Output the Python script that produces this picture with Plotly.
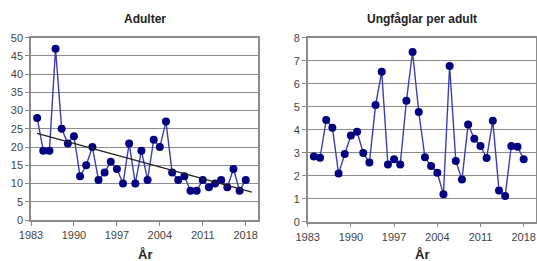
import numpy as np
import plotly.graph_objects as go

years = list(range(1984, 2019))
adulter = [28, 19, 19, 47, 25, 21, 23, 12, 15, 20, 11, 13, 16, 14, 10, 21, 10, 19, 11,
           22, 20, 27, 13, 11, 12, 8, 8, 11, 9, 10, 11, 9, 14, 8, 11]
ungfaglar = [2.83, 2.78, 4.42, 4.09, 2.10, 2.94, 3.75, 3.91, 2.99, 2.57, 5.07, 6.52, 2.49,
             2.72, 2.49, 5.26, 7.38, 4.77, 2.80, 2.42, 2.13, 1.19, 6.77, 2.64, 1.83, 4.23,
             3.61, 3.29, 2.77, 4.39, 1.36, 1.12, 3.29, 3.26, 2.72]
x_ticks = [1983, 1990, 1997, 2004, 2011, 2018]
titles = ["Adulter", "Ungfåglar per adult"]
x_title = "År"

coef = np.polyfit(years, adulter, 1)
trend_x = [1984, 2019]
trend_y = [float(np.polyval(coef, v)) for v in trend_x]

line_col = "#3a3eb0"
marker_col = "#000080"
font = "Liberation Sans, Arial, sans-serif"

fig = go.Figure()
fig.add_trace(go.Scatter(x=years, y=adulter, mode="lines+markers", xaxis="x", yaxis="y",
                         line=dict(color=line_col, width=1.4),
                         marker=dict(color=marker_col, size=8), showlegend=False))
fig.add_trace(go.Scatter(x=trend_x, y=trend_y, mode="lines", xaxis="x", yaxis="y",
                         line=dict(color="#222222", width=1.4), showlegend=False))
fig.add_trace(go.Scatter(x=years, y=ungfaglar, mode="lines+markers", xaxis="x2", yaxis="y2",
                         line=dict(color=line_col, width=1.4),
                         marker=dict(color=marker_col, size=8), showlegend=False))

xcommon = dict(range=[1983, 2020], tickmode="array", tickvals=x_ticks, ticks="outside",
               ticklen=4, tickcolor="#888", showgrid=False, zeroline=False, automargin=False,
               showline=True, linecolor="#8c8c8c", linewidth=1.5, mirror=True,
               tickfont=dict(size=11, color="#444", family=font))
ycommon = dict(ticks="outside", ticklen=4, tickcolor="#888", showgrid=True, automargin=False,
               gridcolor="#8c8c8c", gridwidth=1.2, zeroline=False, showline=True,
               linecolor="#8c8c8c", linewidth=1.5, mirror=True,
               tickfont=dict(size=11, color="#444", family=font))

W, H = 537, 261
L1, R1 = 31, 258
L2, R2 = 307.7, 536
T = 37.7
B1, B2 = 220, 221.7

ann = []
for i, (l, r) in enumerate([(L1, R1), (L2, R2)]):
    ann.append(dict(text="<b>" + titles[i] + "</b>", x=(l + r) / 2 / W, y=1 - 19 / H,
                    xref="paper", yref="paper", showarrow=False, xanchor="center", yanchor="middle",
                    font=dict(size=12, color="#222", family=font)))
    ann.append(dict(text="<b>" + x_title + "</b>", x=(l + r) / 2 / W, y=1 - 254 / H,
                    xref="paper", yref="paper", showarrow=False, xanchor="center", yanchor="middle",
                    font=dict(size=13, color="#222", family=font)))

fig.update_layout(
    width=W, height=H, margin=dict(l=0, r=0, t=0, b=0, autoexpand=False),
    paper_bgcolor="white", plot_bgcolor="white",
    xaxis=dict(domain=[L1 / W, R1 / W], anchor="y", **xcommon),
    yaxis=dict(domain=[1 - B1 / H, 1 - T / H], anchor="x", range=[0, 50], dtick=5, **ycommon),
    xaxis2=dict(domain=[L2 / W, R2 / W], anchor="y2", **xcommon),
    yaxis2=dict(domain=[1 - B2 / H, 1 - T / H], anchor="x2", range=[0, 8], dtick=1, **ycommon),
    annotations=ann,
)
fig.write_html("out.html", config={"displayModeBar": False},
               post_script="document.body.style.margin='0';document.body.style.overflow='hidden';")
